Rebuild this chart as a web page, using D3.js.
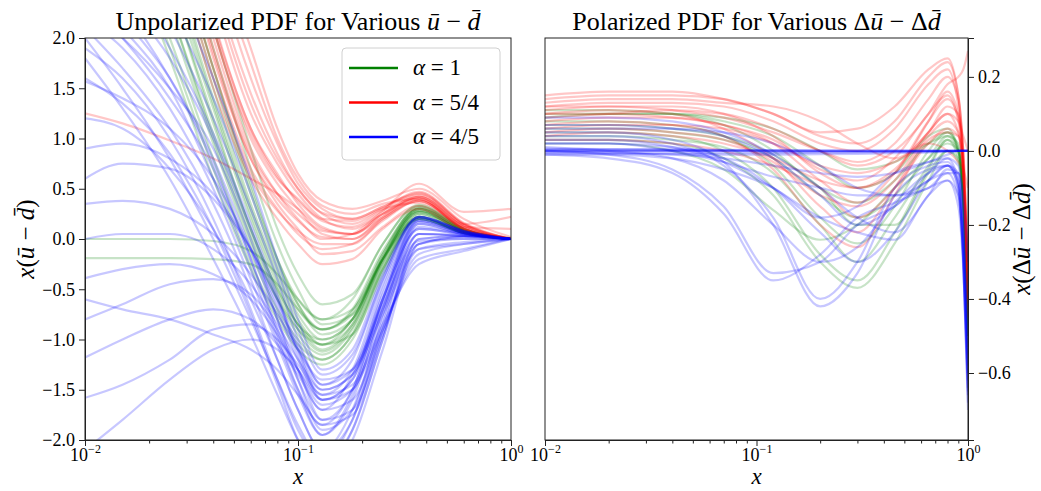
<!DOCTYPE html>
<html>
<head>
<meta charset="utf-8">
<script src="https://cdn.jsdelivr.net/npm/d3@7"></script>
<style>
  body { margin: 0; background: #fff; }
</style>
</head>
<body>
<script>
// ---- data ----
// left panel: x(u-bar - d-bar), one row per replica, sampled on xGridL
const xGridL = [0.01, 0.015, 0.025, 0.04, 0.06, 0.08, 0.1, 0.13, 0.18, 0.25, 0.37, 0.6, 1.0];

const greenL = [
  [5.0, 4.0, 2.6, 1.3, 0.2, -0.45, -0.85, -1.1, -0.85, -0.2, 0.28, 0.08, 0],
  [4.6, 3.6, 2.3, 1.0, 0.0, -0.6, -0.95, -1.15, -0.9, -0.25, 0.25, 0.07, 0],
  [5.5, 4.6, 3.0, 1.6, 0.45, -0.25, -0.65, -0.95, -0.8, -0.2, 0.3, 0.09, 0],
  [4.2, 3.2, 2.0, 0.8, -0.15, -0.7, -1.0, -1.2, -0.95, -0.3, 0.22, 0.06, 0],
  [6.0, 5.0, 3.4, 1.9, 0.7, -0.05, -0.5, -0.85, -0.75, -0.15, 0.32, 0.1, 0],
  [5.2, 4.3, 2.8, 1.4, 0.3, -0.35, -0.75, -1.0, -0.8, -0.18, 0.3, 0.09, 0.01],
  [4.8, 3.9, 2.5, 1.2, 0.1, -0.5, -0.85, -1.05, -0.95, -0.3, 0.2, 0.06, 0],
  [5.8, 4.8, 3.2, 1.7, 0.55, -0.2, -0.6, -0.8, -0.6, -0.05, 0.33, 0.1, 0],
  [3.8, 3.0, 1.8, 0.6, -0.3, -0.8, -1.1, -1.25, -1.0, -0.35, 0.2, 0.06, 0],
  [5.4, 4.4, 2.9, 1.5, 0.35, -0.3, -0.7, -0.9, -0.7, -0.12, 0.3, 0.08, 0],
  [4.4, 3.5, 2.2, 0.95, -0.05, -0.6, -0.9, -1.05, -0.8, -0.2, 0.27, 0.08, 0],
  [6.2, 5.2, 3.6, 2.1, 0.9, 0.1, -0.35, -0.65, -0.55, -0.05, 0.34, 0.1, 0],
  [5.0, 4.1, 2.7, 1.35, 0.25, -0.4, -0.8, -1.05, -0.85, -0.22, 0.28, 0.08, 0],
  [4.5, 3.6, 2.3, 1.05, 0.05, -0.55, -0.9, -1.12, -0.88, -0.25, 0.25, 0.07, 0],
  [5.6, 4.6, 3.1, 1.7, 0.5, -0.2, -0.65, -0.9, -0.72, -0.15, 0.31, 0.09, 0],
  [4.9, 3.9, 2.5, 1.15, 0.1, -0.5, -0.85, -1.0, -0.8, -0.2, 0.27, 0.08, 0],
  [4.0, 3.1, 1.9, 0.7, -0.25, -0.75, -1.05, -1.2, -0.95, -0.3, 0.22, 0.06, 0],
  [0.0, 0.0, 0.0, -0.02, -0.12, -0.35, -0.6, -0.8, -0.7, -0.2, 0.2, 0.06, 0],
  [-0.19, -0.19, -0.19, -0.2, -0.25, -0.45, -0.7, -0.9, -0.75, -0.2, 0.22, 0.06, 0]
];

const redL = [
  [7.0, 6.0, 4.2, 2.4, 1.25, 0.75, 0.45, 0.2, 0.1, 0.25, 0.4, 0.12, 0],
  [6.5, 5.6, 3.8, 2.1, 1.0, 0.55, 0.3, 0.05, 0.0, 0.2, 0.38, 0.1, 0],
  [7.5, 6.5, 4.6, 2.8, 1.6, 0.95, 0.55, 0.3, 0.2, 0.32, 0.45, 0.15, 0],
  [6.0, 5.0, 3.4, 1.8, 0.8, 0.35, 0.1, -0.15, -0.12, 0.12, 0.33, 0.08, 0],
  [8.0, 7.0, 5.0, 3.0, 1.9, 1.1, 0.65, 0.38, 0.3, 0.38, 0.5, 0.2, 0.02],
  [6.8, 5.8, 4.0, 2.2, 1.1, 0.65, 0.35, 0.12, 0.05, 0.22, 0.42, 0.14, 0],
  [5.5, 4.5, 3.0, 1.5, 0.6, 0.2, -0.05, -0.25, -0.2, 0.1, 0.3, 0.06, 0],
  [7.2, 6.2, 4.4, 2.6, 1.45, 0.85, 0.5, 0.25, 0.15, 0.3, 0.47, 0.16, 0],
  [6.2, 5.2, 3.6, 2.0, 0.9, 0.45, 0.2, 0.0, 0.05, 0.28, 0.55, 0.27, 0.3],
  [7.8, 6.8, 4.8, 2.9, 1.75, 1.0, 0.6, 0.33, 0.25, 0.35, 0.4, 0.15, 0.22],
  [6.6, 5.6, 3.9, 2.1, 1.05, 0.6, 0.4, 0.2, 0.18, 0.3, 0.36, 0.1, 0],
  [5.8, 4.8, 3.2, 1.7, 0.7, 0.3, 0.05, -0.1, -0.05, 0.18, 0.38, 0.1, 0],
  [6.0, 5.0, 3.5, 1.9, 0.85, 0.45, 0.25, 0.08, 0.05, 0.25, 0.42, 0.12, 0],
  [6.4, 5.4, 3.7, 2.15, 1.1, 0.62, 0.38, 0.18, 0.12, 0.28, 0.44, 0.14, 0],
  [5.6, 4.6, 3.1, 1.6, 0.65, 0.28, 0.08, -0.05, -0.05, 0.2, 0.38, 0.1, 0],
  [6.8, 5.9, 4.2, 2.5, 1.35, 0.8, 0.5, 0.26, 0.2, 0.32, 0.46, 0.15, 0],
  [5.9, 5.0, 3.4, 1.85, 0.8, 0.4, 0.18, 0.02, 0.0, 0.22, 0.4, 0.12, 0.1],
  [1.25, 1.15, 0.98, 0.8, 0.6, 0.45, 0.3, 0.1, 0.05, 0.25, 0.42, 0.12, 0]
];

const blueL = [
  [2.4, 2.0, 1.4, 0.7, -0.2, -0.9, -1.4, -1.8, -1.5, -0.6, 0.18, 0.06, 0],
  [2.8, 2.4, 1.8, 1.0, 0.1, -0.6, -1.1, -1.6, -1.4, -0.5, 0.2, 0.07, 0],
  [2.1, 1.7, 1.1, 0.35, -0.5, -1.2, -1.7, -2.1, -1.7, -0.8, 0.12, 0.05, 0],
  [3.2, 2.8, 2.1, 1.2, 0.3, -0.4, -1.0, -1.45, -1.2, -0.4, 0.22, 0.08, 0],
  [1.9, 1.6, 1.0, 0.2, -0.7, -1.4, -1.9, -2.2, -1.8, -0.9, 0.05, 0.04, 0],
  [2.6, 2.2, 1.6, 0.8, -0.1, -0.8, -1.3, -1.7, -1.35, -0.55, 0.2, 0.07, 0],
  [2.2, 1.9, 1.3, 0.5, -0.4, -1.05, -1.55, -1.95, -1.6, -0.7, 0.15, 0.05, 0],
  [3.0, 2.6, 1.9, 1.05, 0.15, -0.55, -1.15, -1.55, -1.3, -0.45, 0.22, 0.08, 0],
  [1.6, 1.35, 0.85, 0.1, -0.75, -1.45, -2.0, -2.3, -1.9, -1.0, 0.0, 0.03, 0],
  [2.5, 2.1, 1.5, 0.6, -0.3, -1.0, -1.5, -1.85, -1.5, -0.6, 0.18, 0.06, 0],
  [2.0, 1.5, 0.8, 0.0, -0.8, -1.4, -1.85, -2.2, -1.9, -1.0, 0.0, 0.03, 0],
  [1.8, 1.3, 0.6, -0.2, -0.95, -1.55, -2.0, -2.3, -2.0, -1.1, -0.05, 0.02, 0],
  [3.5, 3.0, 2.3, 1.4, 0.45, -0.3, -0.9, -1.35, -1.15, -0.4, 0.22, 0.08, 0],
  [2.3, 2.0, 1.5, 0.9, 0.0, -0.8, -1.4, -1.9, -1.7, -0.75, 0.15, 0.05, 0],
  [1.2, 1.1, 0.7, 0.1, -0.6, -1.2, -1.7, -2.1, -1.8, -0.85, 0.05, 0.03, 0],
  [2.7, 2.3, 1.6, 0.75, -0.2, -0.95, -1.5, -1.95, -1.55, -0.65, 0.17, 0.06, 0],
  [1.57, 1.4, 1.1, 0.6, -0.1, -0.7, -1.2, -1.6, -1.4, -0.6, 0.1, 0.05, 0],
  [0.35, 0.38, 0.3, 0.05, -0.35, -0.75, -1.1, -1.4, -1.3, -0.7, -0.05, 0.0, 0],
  [0.6, 0.75, 0.7, 0.4, -0.1, -0.6, -1.05, -1.45, -1.3, -0.65, -0.02, 0.0, 0],
  [0.0, 0.05, 0.05, -0.1, -0.45, -0.85, -1.2, -1.5, -1.35, -0.75, -0.1, -0.05, 0],
  [-0.39, -0.3, -0.25, -0.35, -0.6, -0.95, -1.3, -1.65, -1.5, -0.9, -0.2, -0.1, 0],
  [-0.6, -0.7, -0.8, -0.95, -1.1, -1.3, -1.55, -1.85, -1.75, -0.95, -0.1, -0.03, 0],
  [-1.18, -1.0, -0.8, -0.7, -0.8, -1.05, -1.35, -1.7, -1.6, -0.9, -0.15, -0.05, 0],
  [-1.58, -1.45, -1.2, -0.9, -0.85, -1.0, -1.25, -1.55, -1.45, -0.85, -0.25, -0.12, 0],
  [-0.8, -0.65, -0.45, -0.4, -0.55, -0.9, -1.3, -1.8, -1.7, -0.95, -0.05, 0.02, 0],
  [0.9, 0.95, 0.8, 0.45, -0.1, -0.65, -1.1, -1.5, -1.35, -0.6, 0.1, 0.04, 0],
  [-2.1, -1.8, -1.4, -1.1, -1.0, -1.1, -1.3, -1.6, -1.5, -0.7, 0.05, 0.03, 0],
  [4.0, 3.4, 2.6, 1.6, 0.6, -0.2, -0.8, -1.3, -1.1, -0.35, 0.22, 0.08, 0]
];

// right panel: x(Delta u-bar - Delta d-bar), sampled on xGridR
const xGridR = [0.01, 0.02, 0.04, 0.07, 0.12, 0.2, 0.3, 0.45, 0.65, 0.8, 0.9, 0.95, 1.0];

const greenR = [
  [0.08, 0.08, 0.07, 0.04, -0.04, -0.18, -0.25, -0.15, 0.0, 0.05, 0.0, -0.15, -0.5],
  [0.05, 0.05, 0.04, 0.0, -0.1, -0.28, -0.35, -0.22, -0.05, 0.03, -0.02, -0.15, -0.52],
  [0.1, 0.1, 0.1, 0.08, 0.04, -0.04, -0.1, -0.06, 0.04, 0.06, 0.0, -0.12, -0.48],
  [0.03, 0.03, 0.02, -0.02, -0.12, -0.3, -0.37, -0.25, -0.08, 0.0, -0.03, -0.15, -0.5],
  [0.06, 0.06, 0.05, 0.03, -0.02, -0.12, -0.18, -0.12, -0.02, 0.04, 0.02, -0.1, -0.45],
  [0.09, 0.1, 0.1, 0.09, 0.06, 0.0, -0.05, -0.03, 0.02, 0.04, 0.0, -0.15, -0.53],
  [0.02, 0.02, 0.0, -0.05, -0.16, -0.24, -0.2, -0.1, -0.02, 0.02, 0.0, -0.1, -0.45],
  [0.07, 0.07, 0.06, 0.04, -0.01, -0.1, -0.2, -0.2, -0.06, 0.0, -0.02, -0.14, -0.5],
  [0.04, 0.04, 0.03, 0.01, -0.06, -0.2, -0.3, -0.18, -0.04, 0.03, 0.0, -0.12, -0.5],
  [0.11, 0.11, 0.1, 0.07, 0.0, -0.1, -0.14, -0.08, 0.02, 0.05, 0.01, -0.12, -0.47]
];

const redR = [
  [0.12, 0.13, 0.13, 0.12, 0.08, 0.02, 0.0, 0.06, 0.18, 0.22, 0.12, -0.05, -0.4],
  [0.08, 0.09, 0.09, 0.07, 0.03, -0.05, -0.08, -0.02, 0.1, 0.15, 0.08, -0.05, -0.35],
  [0.15, 0.16, 0.16, 0.14, 0.1, 0.04, 0.02, 0.08, 0.2, 0.24, 0.15, 0.0, -0.3],
  [0.05, 0.06, 0.05, 0.03, -0.03, -0.12, -0.15, -0.08, 0.05, 0.1, 0.05, -0.08, -0.45],
  [0.1, 0.11, 0.1, 0.06, -0.02, -0.15, -0.22, -0.1, 0.04, 0.08, 0.05, -0.05, -0.35],
  [0.04, 0.05, 0.04, 0.02, -0.02, -0.08, -0.1, -0.05, 0.05, 0.1, 0.08, 0.04, 0.0],
  [0.13, 0.14, 0.14, 0.13, 0.12, 0.08, 0.02, -0.02, 0.05, 0.12, 0.1, 0.0, -0.3],
  [0.07, 0.08, 0.07, 0.04, -0.05, -0.2, -0.26, -0.12, 0.03, 0.05, 0.04, -0.05, -0.4],
  [0.09, 0.1, 0.11, 0.1, 0.06, 0.0, -0.04, 0.0, 0.1, 0.18, 0.2, 0.22, 0.27],
  [0.11, 0.12, 0.12, 0.1, 0.04, -0.06, -0.1, -0.06, 0.08, 0.16, 0.1, -0.04, -0.45],
  [0.06, 0.07, 0.07, 0.06, 0.02, -0.04, -0.06, -0.03, 0.02, 0.0, -0.03, -0.05, -0.1],
  [0.14, 0.15, 0.15, 0.14, 0.1, 0.05, 0.06, 0.12, 0.22, 0.25, 0.15, -0.02, -0.35],
  [0.1, 0.1, 0.09, 0.07, 0.02, -0.08, -0.14, -0.06, 0.08, 0.14, 0.09, -0.04, -0.4],
  [0.03, 0.03, 0.02, 0.0, -0.04, -0.1, -0.18, -0.1, 0.02, 0.06, 0.04, -0.06, -0.42],
  [0.12, 0.12, 0.11, 0.09, 0.05, 0.0, -0.03, 0.02, 0.14, 0.2, 0.14, -0.02, -0.32]
];

const blueR = [
  [0, 0, 0, 0, 0, 0, 0, 0, 0, 0, 0, 0, 0],
  [0, 0, 0, 0, 0, 0, 0, 0, 0, 0, 0, 0, 0],
  [0.004, 0.004, 0.003, 0.002, 0.001, 0, 0, 0, 0, 0, 0, 0, 0],
  [-0.004, -0.005, -0.006, -0.006, -0.006, -0.005, -0.004, -0.003, -0.002, -0.001, 0, 0, 0],
  [0.006, 0.005, 0.004, 0.003, 0.002, 0.001, 0, 0, 0, 0, 0, 0, 0],
  [-0.006, -0.008, -0.009, -0.01, -0.01, -0.009, -0.008, -0.006, -0.004, -0.002, 0, 0, 0],
  [0.002, 0.001, 0.001, 0, -0.002, -0.003, -0.003, -0.002, -0.001, 0, 0, 0, 0],
  [0.0, -0.005, -0.01, -0.02, -0.04, -0.06, -0.07, -0.06, -0.03, -0.01, 0.0, 0.0, 0.0],
  [0.02, 0.02, 0.01, -0.02, -0.1, -0.22, -0.3, -0.22, -0.08, -0.04, -0.1, -0.3, -0.68],
  [0.0, -0.01, -0.05, -0.15, -0.33, -0.3, -0.2, -0.15, -0.08, -0.06, -0.12, -0.3, -0.7],
  [-0.01, -0.02, -0.06, -0.17, -0.35, -0.28, -0.18, -0.14, -0.1, -0.08, -0.15, -0.32, -0.65],
  [0.05, 0.05, 0.03, -0.03, -0.2, -0.42, -0.33, -0.12, -0.05, -0.04, -0.1, -0.3, -0.66],
  [0.04, 0.04, 0.02, -0.04, -0.18, -0.4, -0.3, -0.1, -0.04, -0.03, -0.09, -0.28, -0.6],
  [0.07, 0.07, 0.06, 0.04, -0.02, -0.12, -0.2, -0.15, -0.06, -0.02, -0.08, -0.25, -0.6],
  [0.02, 0.02, 0.0, -0.03, -0.07, -0.1, -0.12, -0.12, -0.1, -0.06, -0.06, -0.12, -0.3],
  [0.09, 0.09, 0.08, 0.05, -0.01, -0.1, -0.18, -0.22, -0.12, -0.05, -0.06, -0.22, -0.55],
  [-0.01, -0.01, -0.02, -0.05, -0.1, -0.18, -0.15, -0.06, -0.03, -0.02, -0.04, -0.2, -0.58],
  [0.03, 0.03, 0.01, -0.03, -0.1, -0.18, -0.22, -0.24, -0.12, -0.08, -0.12, -0.28, -0.62],
  [0.06, 0.06, 0.06, 0.05, 0.02, -0.04, -0.1, -0.12, -0.08, -0.04, -0.06, -0.2, -0.56],
  [0.01, 0.0, -0.02, -0.08, -0.2, -0.3, -0.26, -0.14, -0.06, -0.04, -0.08, -0.26, -0.64]
];

const legendLabels = ["1", "5/4", "4/5"];
const colors = ["#008000", "#ff0000", "#0000ff"];
const yTicksL = [-2, -1.5, -1, -0.5, 0, 0.5, 1, 1.5, 2];
const yTicksR = [-0.6, -0.4, -0.2, 0, 0.2];
const xMajor = [0.01, 0.1, 1];
const xMinor = [0.02, 0.03, 0.04, 0.05, 0.06, 0.07, 0.08, 0.09, 0.2, 0.3, 0.4, 0.5, 0.6, 0.7, 0.8, 0.9];

const FONT = "'Liberation Serif', 'Times New Roman', Times, 'DejaVu Serif', serif";

// ---- drawing ----
const svg = d3.select("body").append("svg")
  .attr("width", 1041)
  .attr("height", 491)
  .attr("font-family", FONT);

// writes mixed upright / italic pieces into a text element
function mathText(sel, parts) {
  sel.attr("font-family", FONT).attr("fill", "#000");
  parts.forEach(p => {
    sel.append("tspan")
      .attr("font-style", p[1] ? "italic" : "normal")
      .text(p[0]);
  });
  return sel;
}

function drawPanel(cfg) {
  const x = d3.scaleLog().domain([0.01, 1]).range([cfg.left, cfg.right]);
  const y = d3.scaleLinear().domain(cfg.yDomain).range([440, 38]);
  const g = svg.append("g");

  g.append("clipPath").attr("id", cfg.id)
    .append("rect")
    .attr("x", cfg.left).attr("y", 38)
    .attr("width", cfg.right - cfg.left).attr("height", 402);

  const line = d3.line()
    .x((d, i) => x(cfg.grid[i]))
    .y(d => y(d))
    .curve(d3.curveMonotoneX);

  const curves = g.append("g").attr("clip-path", "url(#" + cfg.id + ")");
  cfg.series.forEach((set, k) => {
    curves.selectAll(null)
      .data(set)
      .enter().append("path")
      .attr("d", line)
      .attr("fill", "none")
      .attr("stroke", colors[k])
      .attr("stroke-opacity", 0.22)
      .attr("stroke-width", 2.2);
  });

  // x axis: majors with 10^n labels, minors without
  const xAx = g.append("g").attr("transform", "translate(0,440)")
    .call(d3.axisBottom(x).tickValues(xMajor).tickSize(6).tickFormat(""));
  g.append("g").attr("transform", "translate(0,440)")
    .call(d3.axisBottom(x).tickValues(xMinor).tickSize(3.5).tickFormat(""))
    .select(".domain").remove();
  xAx.selectAll(".tick").each(function(d) {
    const t = d3.select(this).append("text")
      .attr("y", 21).attr("text-anchor", "middle")
      .attr("font-family", FONT).attr("fill", "#000")
      .attr("font-size", 18);
    t.append("tspan").text("10");
    t.append("tspan").attr("dy", -8).attr("font-size", 12)
      .text(String(Math.round(Math.log10(d))).replace("-", "\u2212"));
  });

  // y axis
  const yAxis = cfg.yRight ? d3.axisRight(y) : d3.axisLeft(y);
  const yAx = g.append("g")
    .attr("transform", "translate(" + (cfg.yRight ? cfg.right : cfg.left) + ",0)")
    .call(yAxis.tickValues(cfg.yTicks).tickSize(6).tickPadding(4).tickFormat(d3.format(".1f")));
  yAx.selectAll("text").attr("font-size", 18).attr("font-family", FONT).attr("fill", "#000");

  g.selectAll(".domain").attr("stroke", "#222");
  g.selectAll(".tick line").attr("stroke", "#222");
  g.selectAll(".tick").attr("font-family", FONT);

  // frame
  g.append("rect")
    .attr("x", cfg.left).attr("y", 38)
    .attr("width", cfg.right - cfg.left).attr("height", 402)
    .attr("fill", "none").attr("stroke", "#222").attr("stroke-width", 1);

  // title and labels
  mathText(g.append("text")
    .attr("x", (cfg.left + cfg.right) / 2).attr("y", 30)
    .attr("text-anchor", "middle").attr("font-size", 26), cfg.title);

  mathText(g.append("text")
    .attr("x", (cfg.left + cfg.right) / 2).attr("y", 484)
    .attr("text-anchor", "middle").attr("font-size", 23), [["x", true]]);

  mathText(g.append("text")
    .attr("transform", "translate(" + cfg.yLabelX + ",239) rotate(-90)")
    .attr("text-anchor", "middle").attr("font-size", 25), cfg.yLabel);

  return g;
}

const left = drawPanel({
  id: "clipL", left: 85, right: 511, yDomain: [-2, 2], yTicks: yTicksL,
  grid: xGridL, series: [greenL, redL, blueL], yRight: false, yLabelX: 34,
  title: [["Unpolarized PDF for Various ", false], ["\u016B", true], [" \u2212 ", false], ["d\u0304", true]],
  yLabel: [["x", true], ["(", false], ["\u016B", true], [" \u2212 ", false], ["d\u0304", true], [")", false]]
});

drawPanel({
  id: "clipR", left: 545, right: 968, yDomain: [-0.781, 0.305], yTicks: yTicksR,
  grid: xGridR, series: [greenR, redR, blueR], yRight: true, yLabelX: 1030,
  title: [["Polarized PDF for Various \u0394", false], ["\u016B", true], [" \u2212 \u0394", false], ["d\u0304", true]],
  yLabel: [["x", true], ["(\u0394", false], ["\u016B", true], [" \u2212 \u0394", false], ["d\u0304", true], [")", false]]
});

// legend
const leg = left.append("g");
leg.append("rect")
  .attr("x", 342).attr("y", 48).attr("width", 158).attr("height", 112)
  .attr("rx", 4).attr("fill", "#fff").attr("fill-opacity", 0.85)
  .attr("stroke", "#d0d0d0");
legendLabels.forEach((lab, i) => {
  const yy = 68 + i * 34.5;
  leg.append("line")
    .attr("x1", 349).attr("x2", 398).attr("y1", yy).attr("y2", yy)
    .attr("stroke", colors[i]).attr("stroke-width", 2.5);
  mathText(leg.append("text")
    .attr("x", 413).attr("y", yy + 7).attr("font-size", 23),
    [["\u03B1", true], [" = " + lab, false]]);
});
</script>
</body>
</html>
